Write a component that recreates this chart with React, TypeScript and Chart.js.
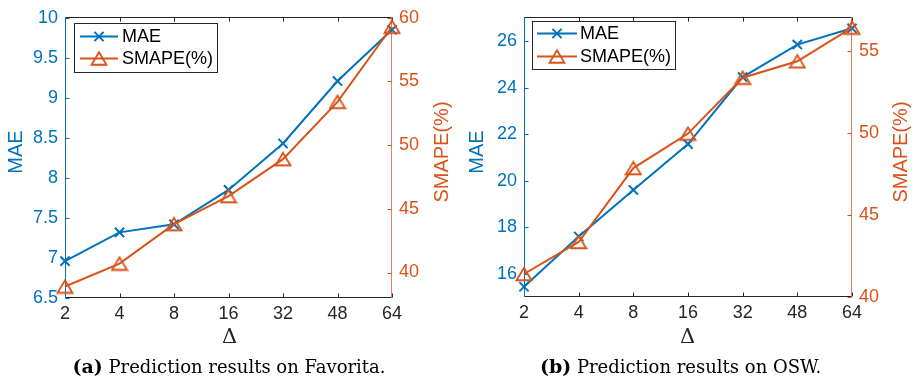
import React, { useEffect, useRef } from "react";
import { Chart, registerables } from "chart.js";
Chart.register(...registerables);

const categories = ["2", "4", "8", "16", "32", "48", "64"];
const favoritaMAE = [6.96, 7.32, 7.42, 7.85, 8.43, 9.21, 9.85];
const favoritaSMAPE = [38.9, 40.7, 43.8, 46.0, 48.9, 53.4, 59.3];
const oswMAE = [15.44, 17.6, 19.6, 21.57, 24.45, 25.85, 26.55];
const oswSMAPE = [41.4, 43.35, 47.85, 49.95, 53.35, 54.35, 56.4];
const favoritaMAETicks = [6.5, 7, 7.5, 8, 8.5, 9, 9.5, 10];
const favoritaSMAPETicks = [40, 45, 50, 55, 60];
const oswMAETicks = [16, 18, 20, 22, 24, 26];
const oswSMAPETicks = [40, 45, 50, 55];

const BLUE = "#0072BD";
const ORANGE = "#D95319";
const DARK = "#262626";
const SANS = '"Liberation Sans", Arial, Helvetica, sans-serif';
const SERIF = '"DejaVu Serif", "Liberation Serif", serif';

type Panel = {
  mae: number[];
  smape: number[];
  yMin: number; yMax: number; yTicks: number[];
  y1Min: number; y1Max: number; y1Ticks: number[];
  leftW: number; rightW: number; top: number; bottomH: number;
  legend: { x: number; y: number; w: number; h: number; row1: number; row2: number; lx0: number; lx1: number; tx: number };
  maeTitleX: number; smapeTitleX: number; titleY: number;
  deltaX: number; deltaY: number;
  capBold: string; capText: string; capX: number; capY: number;
};

function makeTriangleImage(): HTMLCanvasElement {
  const c = document.createElement("canvas");
  const w = 18, h = 16;
  c.width = w; c.height = h;
  const ctx = c.getContext("2d")!;
  ctx.strokeStyle = ORANGE;
  ctx.lineWidth = 1.8;
  ctx.lineJoin = "miter";
  const tw = 15, th = 12.5;
  const cx = w / 2, cy = h / 2;
  ctx.beginPath();
  ctx.moveTo(cx, cy - th / 2);
  ctx.lineTo(cx + tw / 2, cy + th / 2);
  ctx.lineTo(cx - tw / 2, cy + th / 2);
  ctx.closePath();
  ctx.stroke();
  return c;
}

function line(ctx: CanvasRenderingContext2D, x0: number, y0: number, x1: number, y1: number) {
  ctx.beginPath();
  ctx.moveTo(x0, y0);
  ctx.lineTo(x1, y1);
  ctx.stroke();
}

function makeDecor(p: Panel) {
  return {
    id: "decor",
    beforeDatasetsDraw(chart: any) {
      const ctx: CanvasRenderingContext2D = chart.ctx;
      const { left, right, top, bottom } = chart.chartArea;
      const L = Math.floor(left) + 0.5;
      const R = Math.floor(right) - 0.5;
      const T = Math.floor(top) + 0.5;
      const B = Math.floor(bottom) - 0.5;
      ctx.save();
      ctx.lineWidth = 1;
      ctx.strokeStyle = DARK;
      line(ctx, L, T, R, T);
      line(ctx, L, B, R, B);
      const xs = chart.scales.x;
      categories.forEach((_, i) => {
        const px = Math.round(xs.getPixelForValue(i)) + 0.5;
        line(ctx, px, B, px, B - 4);
        line(ctx, px, T, px, T + 4);
      });
      ctx.strokeStyle = BLUE;
      line(ctx, L, T - 0.5, L, B + 0.5);
      p.yTicks.forEach((v) => {
        const py = Math.round(chart.scales.y.getPixelForValue(v)) + 0.5;
        line(ctx, L, py, L + 4, py);
      });
      ctx.strokeStyle = "rgba(217,83,25,0.75)";
      line(ctx, R, T - 0.5, R, B + 0.5);
      ctx.strokeStyle = ORANGE;
      p.y1Ticks.forEach((v) => {
        const py = Math.round(chart.scales.y1.getPixelForValue(v)) + 0.5;
        line(ctx, R - 4, py, R, py);
      });
      ctx.restore();
    },
    afterDraw(chart: any) {
      const ctx: CanvasRenderingContext2D = chart.ctx;
      ctx.save();
      // legend
      const lg = p.legend;
      ctx.fillStyle = "#ffffff";
      ctx.fillRect(lg.x, lg.y, lg.w, lg.h);
      ctx.strokeStyle = DARK;
      ctx.lineWidth = 1;
      ctx.strokeRect(lg.x + 0.5, lg.y + 0.5, lg.w, lg.h);
      const mx = (lg.lx0 + lg.lx1) / 2;
      ctx.lineWidth = 2;
      ctx.strokeStyle = BLUE;
      line(ctx, lg.lx0, lg.row1, lg.lx1, lg.row1);
      const d = 4.6;
      line(ctx, mx - d, lg.row1 - d, mx + d, lg.row1 + d);
      line(ctx, mx - d, lg.row1 + d, mx + d, lg.row1 - d);
      ctx.strokeStyle = ORANGE;
      line(ctx, lg.lx0, lg.row2, lg.lx1, lg.row2);
      ctx.lineWidth = 1.8;
      ctx.beginPath();
      ctx.moveTo(mx, lg.row2 - 6.25);
      ctx.lineTo(mx + 7.5, lg.row2 + 6.25);
      ctx.lineTo(mx - 7.5, lg.row2 + 6.25);
      ctx.closePath();
      ctx.stroke();
      ctx.fillStyle = "#000000";
      ctx.font = `18px ${SANS}`;
      ctx.textAlign = "left";
      ctx.textBaseline = "middle";
      ctx.fillText("MAE", lg.tx, lg.row1 + 1);
      ctx.fillText("SMAPE(%)", lg.tx, lg.row2 + 1);
      // axis titles
      ctx.font = `20px ${SANS}`;
      ctx.textAlign = "center";
      ctx.textBaseline = "middle";
      ctx.save();
      ctx.translate(p.maeTitleX, p.titleY);
      ctx.rotate(-Math.PI / 2);
      ctx.fillStyle = BLUE;
      ctx.fillText("MAE", 0, 0);
      ctx.restore();
      ctx.save();
      ctx.translate(p.smapeTitleX, p.titleY);
      ctx.rotate(-Math.PI / 2);
      ctx.fillStyle = ORANGE;
      ctx.fillText("SMAPE(%)", 0, 0);
      ctx.restore();
      // delta
      ctx.fillStyle = DARK;
      ctx.font = `21px ${SERIF}`;
      ctx.textAlign = "center";
      ctx.textBaseline = "alphabetic";
      ctx.fillText("Δ", p.deltaX, p.deltaY);
      // caption
      ctx.fillStyle = "#000000";
      ctx.textAlign = "left";
      const boldFont = `bold 19px ${SERIF}`;
      const regFont = `18px ${SERIF}`;
      ctx.font = boldFont;
      const w1 = ctx.measureText(p.capBold).width;
      ctx.font = regFont;
      const w2 = ctx.measureText(p.capText).width;
      const x0 = p.capX - (w1 + w2) / 2;
      ctx.font = boldFont;
      ctx.fillText(p.capBold, x0, p.capY);
      ctx.font = regFont;
      ctx.fillText(p.capText, x0 + w1, p.capY);
      ctx.restore();
    },
  };
}

function makeConfig(p: Panel, tri: HTMLCanvasElement): any {
  const tickFont = { family: SANS, size: 18 };
  return {
    type: "line",
    data: {
      labels: categories,
      datasets: [
        {
          label: "MAE",
          data: p.mae,
          yAxisID: "y",
          borderColor: BLUE,
          borderWidth: 2,
          pointStyle: "crossRot",
          pointRadius: 6.5,
          pointBorderWidth: 2,
          pointBorderColor: BLUE,
          pointBackgroundColor: "rgba(0,0,0,0)",
          fill: false,
          tension: 0,
          clip: false,
          order: 1,
        },
        {
          label: "SMAPE(%)",
          data: p.smape,
          yAxisID: "y1",
          borderColor: ORANGE,
          borderWidth: 2,
          pointStyle: tri,
          pointRadius: 8,
          pointBorderWidth: 0,
          fill: false,
          tension: 0,
          clip: false,
          order: 0,
        },
      ],
    },
    options: {
      responsive: false,
      maintainAspectRatio: false,
      animation: false,
      devicePixelRatio: 1,
      events: [],
      layout: { padding: { top: p.top, left: 0, right: 0, bottom: 0 } },
      plugins: { legend: { display: false }, tooltip: { enabled: false }, title: { display: false } },
      scales: {
        x: {
          type: "category",
          offset: false,
          grid: { display: false, drawTicks: false },
          border: { display: false },
          ticks: { color: DARK, font: tickFont, padding: 5, maxRotation: 0, autoSkip: false },
          afterFit: (s: any) => { s.height = p.bottomH; },
        },
        y: {
          type: "linear",
          position: "left",
          min: p.yMin,
          max: p.yMax,
          grid: { display: false, drawTicks: false },
          border: { display: false },
          afterBuildTicks: (s: any) => { s.ticks = p.yTicks.map((v) => ({ value: v })); },
          ticks: { color: BLUE, font: tickFont, padding: 7, callback: (v: any) => String(v) },
          afterFit: (s: any) => { s.width = p.leftW; },
        },
        y1: {
          type: "linear",
          position: "right",
          min: p.y1Min,
          max: p.y1Max,
          grid: { display: false, drawTicks: false },
          border: { display: false },
          afterBuildTicks: (s: any) => { s.ticks = p.y1Ticks.map((v) => ({ value: v })); },
          ticks: { color: ORANGE, font: tickFont, padding: 7, callback: (v: any) => String(v) },
          afterFit: (s: any) => { s.width = p.rightW; },
        },
      },
    },
    plugins: [makeDecor(p)],
  };
}

const panelA: Panel = {
  mae: favoritaMAE,
  smape: favoritaSMAPE,
  yMin: 6.5, yMax: 10, yTicks: favoritaMAETicks,
  y1Min: 38, y1Max: 60, y1Ticks: favoritaSMAPETicks,
  leftW: 65, rightW: 65, top: 13, bottomH: 83,
  legend: { x: 74, y: 23, w: 143, h: 49, row1: 36.5, row2: 58.5, lx0: 80, lx1: 118, tx: 122 },
  maeTitleX: 16, smapeTitleX: 442, titleY: 152,
  deltaX: 229.5, deltaY: 343,
  capBold: "(a)", capText: " Prediction results on Favorita.", capX: 229, capY: 373,
};

const panelB: Panel = {
  mae: oswMAE,
  smape: oswSMAPE,
  yMin: 15, yMax: 27, yTicks: oswMAETicks,
  y1Min: 40, y1Max: 57, y1Ticks: oswSMAPETicks,
  leftW: 67, rightW: 62, top: 13, bottomH: 84,
  legend: { x: 75, y: 21, w: 143, h: 48, row1: 33.5, row2: 56.5, lx0: 80, lx1: 120, tx: 123 },
  maeTitleX: 20.5, smapeTitleX: 444, titleY: 152,
  deltaX: 230.5, deltaY: 343,
  capBold: "(b)", capText: " Prediction results on OSW.", capX: 223.5, capY: 373,
};

export default function App() {
  const refA = useRef<HTMLCanvasElement | null>(null);
  const refB = useRef<HTMLCanvasElement | null>(null);
  useEffect(() => {
    document.body.style.margin = "0";
    const tri = makeTriangleImage();
    const a = new Chart(refA.current!, makeConfig(panelA, tri));
    const b = new Chart(refB.current!, makeConfig(panelB, tri));
    return () => { a.destroy(); b.destroy(); };
  }, []);
  return (
    <div style={{ position: "relative", width: 914, height: 381, background: "#ffffff" }}>
      <canvas ref={refA} width={457} height={381} style={{ position: "absolute", left: 0, top: 0 }} />
      <canvas ref={refB} width={457} height={381} style={{ position: "absolute", left: 457, top: 0 }} />
    </div>
  );
}
